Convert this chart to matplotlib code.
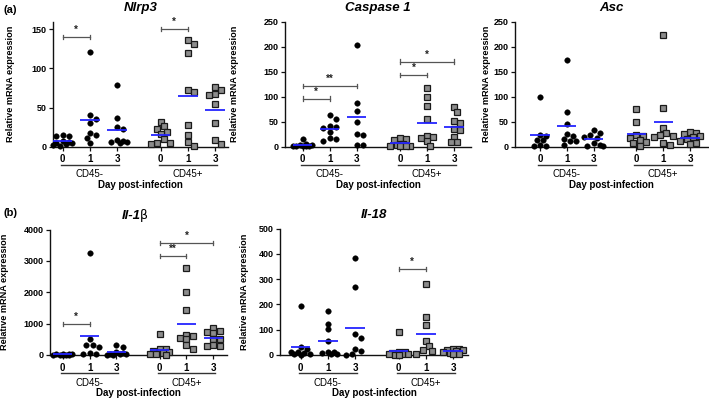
import matplotlib.pyplot as plt
import matplotlib.transforms as mtransforms
import numpy as np

plt.rcParams['font.family'] = ['Liberation Sans', 'DejaVu Sans']

W, H = 709, 400
BLUE = '#2424ff'
GREY_SQ = '#8c8c8c'

days = ['0', '1', '3']
groups = ['CD45-', 'CD45+']
xpos = [0, 1, 2, 3.6, 4.6, 5.6]

# order of groups: CD45- day 0, 1, 3, CD45+ day 0, 1, 3
nlrp3 = [
    [15, 14, 13, 7, 6, 5, 4, 3, 2, 1],
    [121, 40, 35, 30, 17, 15, 11, 5],
    [79, 36, 25, 23, 8, 7, 6, 6, 5],
    [32, 26, 22, 19, 16, 10, 5, 5, 3],
    [137, 132, 120, 73, 70, 27, 15, 6, 1],
    [76, 73, 67, 66, 54, 30, 8, 3],
]
caspase1 = [
    [15, 5, 4, 3, 2, 2, 1, 1, 0.5],
    [63, 56, 42, 40, 38, 30, 17, 15, 12],
    [204, 87, 72, 50, 25, 24, 3, 3],
    [17, 15, 14, 6, 3, 2, 1, 1, 0.5],
    [118, 99, 81, 55, 22, 19, 17, 12, 1],
    [80, 70, 51, 48, 35, 33, 19, 9, 9],
]
asc = [
    [100, 24, 22, 14, 13, 3, 2, 2],
    [173, 69, 45, 25, 22, 16, 12, 11, 4],
    [33, 27, 24, 20, 17, 8, 3, 2, 2],
    [76, 49, 24, 22, 18, 13, 10, 8, 1],
    [223, 77, 38, 28, 24, 22, 19, 8, 3],
    [29, 27, 25, 22, 19, 15, 12, 8, 5],
]
il1b = [
    [40, 30, 25, 20, 15, 10, 8, 5, 3],
    [3250, 500, 330, 320, 240, 50, 40, 30],
    [330, 240, 100, 60, 40, 30, 20, 15, 10],
    [670, 200, 180, 130, 100, 60, 40, 20, 10],
    [2760, 2000, 1430, 650, 600, 550, 520, 320, 200],
    [850, 780, 740, 700, 520, 500, 320, 300, 290],
]
il18 = [
    [195, 33, 25, 12, 10, 8, 5, 3, 0],
    [172, 124, 102, 57, 12, 10, 8, 5, 3],
    [385, 270, 83, 67, 25, 15, 5, 0],
    [92, 12, 10, 8, 5, 3, 2, 1, 0],
    [280, 150, 118, 55, 35, 20, 15, 5],
    [25, 22, 20, 18, 15, 12, 8, 5, 3],
]

# significance brackets: (from group, to group, height, label)
nlrp3_sig = [(0, 1, 140, '*'), (3, 4, 151, '*')]
caspase1_sig = [(0, 1, 96, '*'), (0, 2, 121, '**'), (3, 4, 143, '*'), (3, 5, 170, '*')]
asc_sig = []
il1b_sig = [(0, 1, 980, '*'), (3, 4, 3160, '**'), (3, 5, 3570, '*')]
il18_sig = [(3, 4, 340, '*')]

# layout in pixels: spine x, first tick x, last tick x, right end, top, bottom, ylabel right edge
panels = [
    dict(title='Nlrp3', data=nlrp3, sig=nlrp3_sig, ymax=160, yticks=[0, 50, 100, 150],
         px=(53, 62.7, 215, 228, 21.7, 146.5, 15), tag='(a)', tag_y=10),
    dict(title='Caspase 1', data=caspase1, sig=caspase1_sig, ymax=250, yticks=[0, 50, 100, 150, 200, 250],
         px=(285, 302.7, 454, 471, 21.7, 146.5, 239)),
    dict(title='Asc', data=asc, sig=asc_sig, ymax=250, yticks=[0, 50, 100, 150, 200, 250],
         px=(515, 540, 690, 708, 21.7, 146.5, 491)),
    dict(title='Il-1', data=il1b, sig=il1b_sig, ymax=4000, yticks=[0, 1000, 2000, 3000, 4000],
         px=(50, 62.7, 213.3, 227, 229.5, 355, 9.5), tag='(b)', tag_y=213),
    dict(title='Il-18', data=il18, sig=il18_sig, ymax=500, yticks=[0, 100, 200, 300, 400, 500],
         px=(280, 300.7, 453, 468, 228.5, 355, 249)),
]


def swarm(values, center, unit_px, val_px, diam, maxoff=10.0):
    # simple beeswarm: side-by-side placement, limited width, overlap allowed
    placed, xs = [], []
    cands = [0.0]
    step = diam * 0.55
    k = 1
    while k * step <= maxoff:
        cands += [k * step, -k * step]
        k += 1
    for v in values:
        y = v * val_px
        best, best_d = 0.0, -1.0
        for off in cands:
            d = min([np.hypot(off - a, y - b) for a, b in placed] or [99.0])
            if d >= diam * 0.95:
                best = off
                break
            if d > best_d:
                best, best_d = off, d
        placed.append((best, y))
        xs.append(center + best / unit_px)
    return xs


fig = plt.figure(figsize=(W / 100, H / 100), dpi=100)

for p in panels:
    spine, first, last, right, top, bottom, ylab_x = p['px']
    ax = fig.add_axes([spine / W, 1 - bottom / H, (right - spine) / W, (bottom - top) / H])
    unit = (last - first) / xpos[-1]
    ax.set_xlim(-(first - spine) / unit, xpos[-1] + (right - last) / unit)
    ax.set_ylim(0, p['ymax'])
    hpx = bottom - top
    val_px = hpx / p['ymax']

    for i, vals in enumerate(p['data']):
        xs = swarm(vals, xpos[i], unit, val_px, 5.8)
        if i < 3:
            ax.plot(xs, vals, 'o', ms=4.0, color='black', mec='black', mew=0.3,
                    clip_on=False, zorder=3)
        else:
            ax.plot(xs, vals, 's', ms=4.4, color=GREY_SQ, mec='#1a1a1a', mew=0.9,
                    clip_on=False, zorder=3)
        m = np.mean(vals)
        ax.plot([xpos[i] - 0.36, xpos[i] + 0.36], [m, m], color=BLUE, lw=1.3,
                zorder=4, solid_capstyle='butt')

    # brackets
    cap = 2.2 / val_px
    for a, b, h, lab in p['sig']:
        x0, x1 = xpos[a], xpos[b]
        ax.plot([x0, x1], [h, h], color='#555555', lw=0.9, clip_on=False)
        ax.plot([x0, x0], [h - cap, h + cap], color='#555555', lw=0.9, clip_on=False)
        ax.plot([x1, x1], [h - cap, h + cap], color='#555555', lw=0.9, clip_on=False)
        ax.text((x0 + x1) / 2, h + 2.0 / val_px, lab, ha='center', va='bottom',
                fontsize=7, fontweight='bold', color='#222222')

    for s in ['top', 'right']:
        ax.spines[s].set_visible(False)
    for s in ['left', 'bottom']:
        ax.spines[s].set_linewidth(1.0)
        ax.spines[s].set_color('#111111')

    ax.set_yticks(p['yticks'])
    ax.set_yticklabels([str(t) for t in p['yticks']], fontsize=6.5, fontweight='bold')
    ax.set_xticks(xpos)
    ax.set_xticklabels(days * 2, fontsize=7, fontweight='bold')
    ax.tick_params(axis='both', length=3, width=0.9, color='#111111', pad=1.5)
    ax.tick_params(axis='x', pad=2.5)

    ax.set_ylabel('Relative mRNA expression', fontsize=6.6, fontweight='bold')
    ax.yaxis.set_label_coords((ylab_x - spine) / (right - spine), 0.5)

    # x group annotations
    tr = mtransforms.blended_transform_factory(ax.transData, ax.transAxes)
    uy = -18.0 / hpx
    for g in range(2):
        xa, xb = xpos[3 * g], xpos[3 * g + 2]
        ax.plot([xa - 2 / unit, xb + 2 / unit], [uy, uy], transform=tr, color='#333333',
                lw=1.0, clip_on=False)
        ax.text(xpos[3 * g + 1], -27.5 / hpx, groups[g], transform=tr, ha='center',
                va='center', fontsize=7)
    ax.text(0.5, -38.0 / hpx, 'Day post-infection', transform=ax.transAxes, ha='center',
            va='center', fontsize=7, fontweight='bold')

    # title
    ty = 1 + 13.5 / hpx
    if p['title'] == 'Il-1':
        ax.text(0.51, ty, 'Il-1', transform=ax.transAxes, ha='right', va='center',
                fontsize=9.5, fontweight='bold', fontstyle='italic')
        ax.text(0.51, ty, '\u03b2', transform=ax.transAxes, ha='left', va='center',
                fontsize=9, family=['DejaVu Sans'])
    else:
        ax.text(0.5, ty, p['title'], transform=ax.transAxes, ha='center', va='center',
                fontsize=9.5, fontweight='bold', fontstyle='italic')

    if 'tag' in p:
        fig.text(3 / W, 1 - p['tag_y'] / H, p['tag'], ha='left', va='center',
                 fontsize=8, fontweight='bold')

fig.savefig('out.png', dpi=100)
